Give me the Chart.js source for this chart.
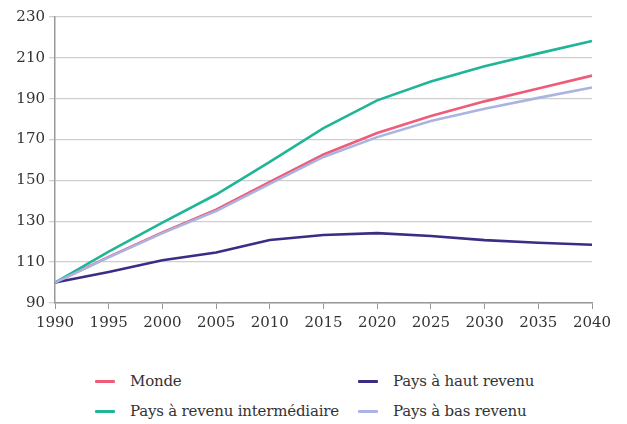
<!DOCTYPE html>
<html>
<head>
<meta charset="utf-8">
<script src="https://cdn.jsdelivr.net/npm/chart.js@4.4.1/dist/chart.umd.min.js"></script>
<style>
  html, body { margin: 0; padding: 0; background: #fff; }
  #wrap { position: relative; width: 627px; height: 424px; }
  #graph { position: absolute; left: 0; top: 0; }
  #legende {
    position: absolute; left: 95px; top: 369px;
    display: grid; grid-template-columns: 263px 240px; row-gap: 6px;
    font-family: "DejaVu Serif", serif; font-size: 15px; color: #333;
  }
  .item { display: flex; align-items: center; height: 24px; letter-spacing: -0.2px; }
  .trait { width: 20px; height: 3px; margin-right: 15px; border-radius: 1px; }
</style>
</head>
<body>
<div id="wrap">
  <canvas id="graph" width="627" height="337"></canvas>
  <div id="legende"></div>
</div>
<script>
// ======= Données =======
const annees = ["1990","1995","2000","2005","2010","2015","2020","2025","2030","2035","2040"];
const monde         = [100, 112.6, 124.5, 135.7, 149.3, 162.7, 173.2, 181.5, 188.7, 195, 201.3];
const intermediaire = [100, 115.2, 129.3, 143.1, 159.1, 175.6, 189.2, 198.4, 205.9, 212.2, 218.2];
const hautRevenu    = [100, 105.2, 110.9, 114.7, 120.8, 123.3, 124.2, 122.8, 120.8, 119.5, 118.5];
const basRevenu     = [100, 112.3, 124.2, 135.0, 148.3, 161.5, 171.2, 179.1, 185.1, 190.4, 195.5];
const ticksY = [90, 110, 130, 150, 170, 190, 210, 230];

const series = {
  monde: { label: "Monde", data: monde, color: "#EE5C79" },
  inter: { label: "Pays à revenu intermédiaire", data: intermediaire, color: "#20B596" },
  haut:  { label: "Pays à haut revenu", data: hautRevenu, color: "#3C2C85" },
  bas:   { label: "Pays à bas revenu", data: basRevenu, color: "#AAB4E0" }
};

const police = { family: "'DejaVu Serif', serif", size: 15 };

// ======= Graphique =======
const ctx = document.getElementById("graph").getContext("2d");
new Chart(ctx, {
  type: "line",
  data: {
    labels: annees,
    // ordre de dessin : bas revenu sous monde
    datasets: [series.bas, series.haut, series.inter, series.monde].map(s => ({
      label: s.label, data: s.data, borderColor: s.color, backgroundColor: s.color,
      borderWidth: 2.6, pointRadius: 0, tension: 0, fill: false
    }))
  },
  options: {
    responsive: false,
    animation: false,
    layout: { padding: { top: 17, right: 35, left: 0, bottom: 0 } },
    plugins: { legend: { display: false }, tooltip: { enabled: false } },
    scales: {
      x: {
        offset: false,
        grid: { display: true, drawOnChartArea: false, tickLength: 6, color: "#999" },
        border: { color: "#999", width: 1.5 },
        ticks: { color: "#333", font: police, maxRotation: 0, padding: 5 }
      },
      y: {
        min: 90, max: 230,
        afterBuildTicks: s => { s.ticks = ticksY.map(v => ({ value: v })); },
        afterFit: s => { s.width = 55; },
        grid: { color: "#cfcfcf", lineWidth: 1.3, tickLength: 6 },
        border: { color: "#999", width: 1.5 },
        ticks: { color: "#333", font: police, padding: 4 }
      }
    }
  }
});

// ======= Légende (deux colonnes) =======
const legende = document.getElementById("legende");
[series.monde, series.haut, series.inter, series.bas].forEach(s => {
  const div = document.createElement("div");
  div.className = "item";
  div.innerHTML = `<span class="trait" style="background:${s.color}"></span><span>${s.label}</span>`;
  legende.appendChild(div);
});
</script>
</body>
</html>
